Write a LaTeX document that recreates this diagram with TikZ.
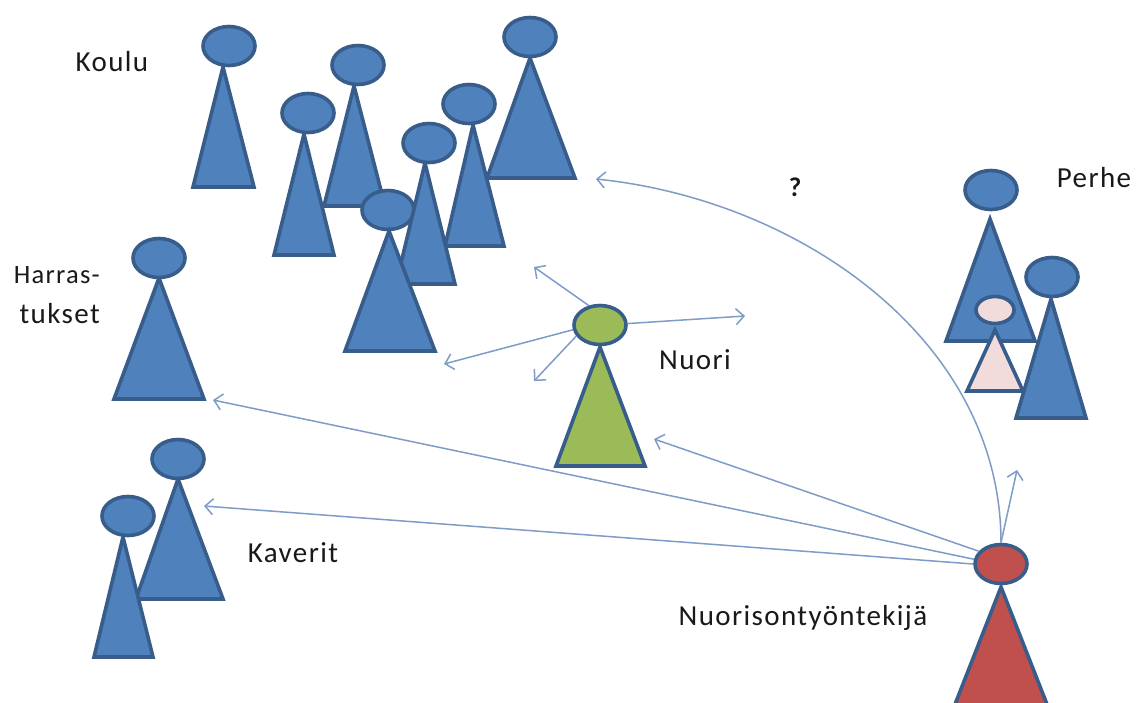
\documentclass[tikz,border=0pt]{standalone}
\usepackage{fontspec}
\setmainfont{Carlito}[LetterSpace=4.8]
\usetikzlibrary{arrows.meta,shapes.geometric}
\definecolor{edgeblue}{HTML}{385D8A}
\definecolor{fillblue}{HTML}{4F81BD}
\definecolor{fillgreen}{HTML}{9BBB59}
\definecolor{fillred}{HTML}{C0504D}
\definecolor{fillpink}{HTML}{F2DCDB}
\definecolor{linkblue}{HTML}{7F9CC8}
\tikzset{
  head/.style={ellipse,draw=edgeblue,line width=3.6pt,inner sep=0pt,minimum width=52pt,minimum height=39pt,fill=#1},
  head/.default=fillblue,
  body/.style={draw=edgeblue,line width=3.6pt,line join=miter,fill=#1},
  body/.default=fillblue,
  link/.style={draw=linkblue,line width=1.5pt,-{Straight Barb[length=8pt,width=16pt,line width=1.5pt]}},
  lab/.style={font=\fontsize{29}{34}\selectfont,text=black!90,inner sep=0pt}
}
\newcommand{\tribody}[6][fillblue]{\draw[body=#1] (#2,#3) -- (#5,#4) -- (#6,#4) -- cycle;}
\begin{document}
\begin{tikzpicture}[x=1pt,y=-1pt]
\useasboundingbox (0,0) rectangle (1147,702);
\fill[white] (0,0) rectangle (1147,702);
\begin{scope}
\clip (0,0) rectangle (1147,702);
% Koulu
\tribody{223}{67}{187}{193}{254}
\node[head] (k1) at (229,46) {};
\tribody{354}{86}{206}{324}{385}
\node[head] (k2) at (358,65) {};
\tribody{304}{134}{255}{274}{334}
\node[head] (k3) at (308,113) {};
\tribody{530}{58}{178}{487}{575}
\node[head] (k6) at (530,37) {};
\tribody{473}{125}{246}{445}{504}
\node[head] (k5) at (469,104) {};
\node[head] (k7) at (388,210) {};
\tribody{425}{163}{284}{396}{455}
\node[head] (k4) at (429,143) {};
\tribody{389}{231}{351}{345}{435}
% Harrastukset
\tribody{159}{278}{399}{114}{204}
\node[head] (h1) at (159,258) {};
% Kaverit
\tribody{178}{479}{599}{136}{223}
\node[head] (f1) at (178,459) {};
\tribody{123}{537}{657}{94}{153}
\node[head] (f2) at (128,516) {};
% Nuori
\tribody[fillgreen]{600}{347}{466}{556}{645}
\node[head=fillgreen] (nuori) at (600,325) {};
% Perhe
\tribody{990}{219}{341}{946}{1035}
\node[head] (p1) at (991,190) {};
\tribody[fillpink]{995}{330}{391}{967}{1023}
\node[head=fillpink,minimum width=38pt,minimum height=27pt] (p3) at (995,310) {};
\tribody{1051}{299}{418}{1016}{1086}
\node[head] (p2) at (1052,277) {};
% Worker
\tribody[fillred]{1001}{587}{712}{952}{1050}
\node[head=fillred] (worker) at (1001,564) {};
\end{scope}
% free ends
\coordinate (n1) at (534,267);
\coordinate (n2) at (745,316);
\coordinate (n3) at (444,364);
\coordinate (n4) at (534,381);
\coordinate (w1) at (654,439);
\coordinate (w2) at (213,400);
\coordinate (w3) at (204,506);
\coordinate (w4) at (1017,470);
\coordinate (w5) at (596,179);
\draw[link] (nuori.120) -- (n1);
\draw[link] (nuori.3) -- (n2);
\draw[link] (nuori.190) -- (n3);
\draw[link] (nuori.205) -- (n4);
\draw[link] (worker.150) -- (w1);
\draw[link] (worker.170) -- (w2);
\draw[link] (worker.180) -- (w3);
\draw[link] (worker.90) -- (w4);
\draw[link] (worker.90) .. controls (1001,340) and (800,200) .. (w5);
% labels
\node[lab] (t1) at (112,62) {Koulu};
\node[lab,anchor=east,font=\fontsize{26.5}{34}\selectfont] (t2) at (100,275) {Harras-};
\node[lab,anchor=east] (t3) at (100,314) {tukset};
\node[lab] (t4) at (293,553) {Kaverit};
\node[lab] (t5) at (695,360) {Nuori};
\node[lab] (t6) at (1094,178) {Perhe};
\node[lab] (t7) at (803,618) {Nuorisontyöntekijä};
\node[lab,font=\fontsize{27}{30}\selectfont\bfseries] (t8) at (795,187) {?};
\end{tikzpicture}
\end{document}
